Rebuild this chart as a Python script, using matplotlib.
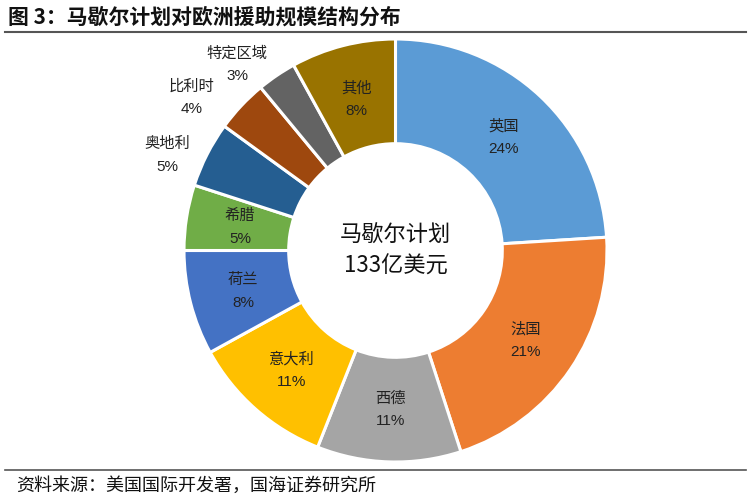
import numpy as np
import matplotlib
matplotlib.use("Agg")
import matplotlib.pyplot as plt
from matplotlib.lines import Line2D

plt.rcParams['font.family'] = ['Noto Sans CJK SC', 'DejaVu Sans']

categories = ['英国', '法国', '西德', '意大利', '荷兰', '希腊', '奥地利', '比利时', '特定区域', '其他']
values = [24, 21, 11, 11, 8, 5, 5, 4, 3, 8]
colors = ['#5B9BD5', '#ED7D31', '#A5A5A5', '#FFC000', '#4472C4', '#70AD47',
          '#255E91', '#9E480E', '#636363', '#997300']
outside = {'奥地利': (1.17, 4), '比利时': (1.21, 6), '特定区域': (1.16, 6)}

title = '图 3：马歇尔计划对欧洲援助规模结构分布'
center_lines = ['马歇尔计划', '133亿美元']
source = '资料来源：美国国际开发署，国海证券研究所'

W, H = 753, 500
fig = plt.figure(figsize=(W / 100, H / 100), dpi=100)

cx, cy, R = 395.5, 250.5, 211.5
half = 250
ax = fig.add_axes([(cx - half) / W, (H - cy - half) / H, 2 * half / W, 2 * half / H])

wedges, _ = ax.pie(values, colors=colors, startangle=90, counterclock=False, radius=1,
                   wedgeprops=dict(width=0.495, edgecolor='white', linewidth=2.2))
L = half / R
ax.set_xlim(-L, L)
ax.set_ylim(-L, L)
ax.set_aspect('equal')
ax.axis('off')

total = sum(values)
cum = 0
for cat, v, w in zip(categories, values, wedges):
    mid = 90 - (cum + v / 2) / total * 360
    cum += v
    if cat in outside:
        r, da = outside[cat]
        a = np.deg2rad(mid + da)
    else:
        r = 0.745
        a = np.deg2rad(mid)
    x, y = r * np.cos(a), r * np.sin(a)
    ax.text(x, y + 0.047, cat, ha='center', va='center', fontsize=11, color='#222222')
    ax.text(x, y - 0.062, f'{v}%', ha='center', va='center', fontsize=11, color='#222222',
            family=['Liberation Sans', 'DejaVu Sans'])

ax.text(0, 0.07, center_lines[0], ha='center', va='center', fontsize=16, color='#111111')
ax.text(0, -0.075, center_lines[1], ha='center', va='center', fontsize=16, color='#111111')

fig.text(8 / W, 1 - 17 / H, title, ha='left', va='center', fontsize=15, fontweight='bold', color='#111111')
fig.add_artist(Line2D([5 / W, 746 / W], [1 - 31.5 / H, 1 - 31.5 / H], color='#555555', linewidth=1.5))
fig.add_artist(Line2D([5 / W, 746 / W], [1 - 470 / H, 1 - 470 / H], color='#555555', linewidth=1.2))
fig.text(16 / W, 1 - 486 / H, source, ha='left', va='center', fontsize=13, color='#111111')

fig.savefig('out.png', dpi=100)
